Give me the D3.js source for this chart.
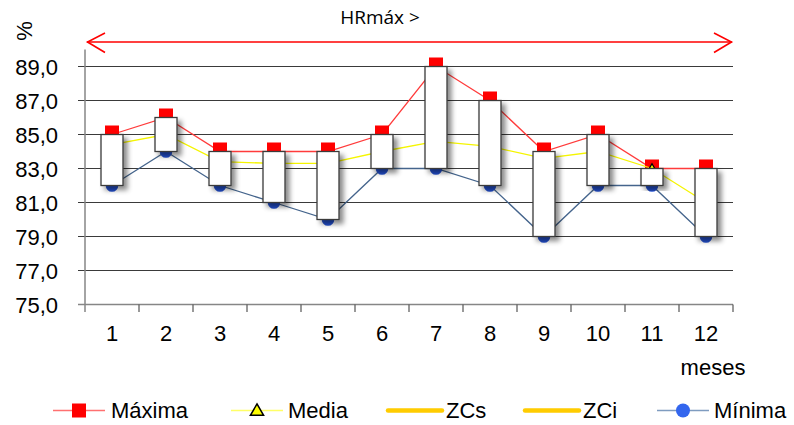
<!DOCTYPE html>
<html><head><meta charset="utf-8">
<script src="https://cdn.jsdelivr.net/npm/d3@7"></script>
<style>body{margin:0;background:#fff}svg{display:block}text{font-family:"Liberation Sans",Arial,sans-serif;fill:#000}</style>
</head><body>
<svg id="c" width="794" height="425"></svg>
<script>
const months = [1,2,3,4,5,6,7,8,9,10,11,12];
const maxima = [85,86,84,84,84,85,89,87,84,85,83,83];
const minima = [82,84,82,81,80,83,83,82,79,82,82,79];
const media  = [84.4,85.0,83.4,83.3,83.3,84.0,84.6,84.3,83.6,84.0,83.0,81.0];
const yTicks = [75,77,79,81,83,85,87,89];
const legendItems = ["Máxima","Media","ZCs","ZCi","Mínima"];

const svg = d3.select("#c");
const x = d3.scaleBand().domain(months).range([85,733]);
const y = d3.scaleLinear().domain([75,90]).range([304.5,49.5]);
const fmt = v => d3.format(".1f")(v).replace(".", ",");

const defs = svg.append("defs");
const f = defs.append("filter").attr("id","sh").attr("x","-50%").attr("y","-20%").attr("width","200%").attr("height","150%");
f.append("feDropShadow").attr("dx",4).attr("dy",4).attr("stdDeviation",2.5).attr("flood-color","#000").attr("flood-opacity",0.45);

// gridlines
svg.append("g").selectAll("line").data(yTicks).join("line")
  .attr("x1",78).attr("x2",733).attr("y1",d=>y(d)).attr("y2",d=>y(d))
  .attr("stroke",d=>d===75?"#868686":"#3a3a3a").attr("stroke-width",d=>d===75?1.5:1.1);
// y tick labels
svg.append("g").selectAll("text").data(yTicks).join("text")
  .attr("x",58).attr("y",d=>y(d)+8).attr("text-anchor","end").attr("font-size",22).text(fmt);
// y axis line
svg.append("line").attr("x1",85).attr("x2",85).attr("y1",y(90)).attr("y2",312).attr("stroke","#868686").attr("stroke-width",1.5);
// x ticks
const bounds = months.map(m=>x(m)).concat([x(12)+x.bandwidth()]);
svg.append("g").selectAll("line").data(bounds.slice(1)).join("line")
  .attr("x1",d=>d).attr("x2",d=>d).attr("y1",y(75)).attr("y2",312).attr("stroke","#555").attr("stroke-width",1.2);
svg.append("g").selectAll("text").data(months).join("text")
  .attr("x",d=>x(d)+x.bandwidth()/2).attr("y",341).attr("text-anchor","middle").attr("font-size",22).text(d=>d);

// titles
svg.append("text").attr("x",713).attr("y",375).attr("text-anchor","middle").attr("font-size",22).text("meses");
svg.append("text").attr("transform","translate(32,31) rotate(-90)").attr("text-anchor","middle").attr("font-size",22).text("%");
svg.append("text").attr("x",380).attr("y",24).attr("text-anchor","middle").attr("font-size",19).style("font-family","'Open Sans', sans-serif").text("HRmáx >");
// red double arrow
const ar = svg.append("g").attr("stroke","#ff0000").attr("stroke-width",1.6).attr("fill","none");
ar.append("line").attr("x1",87).attr("x2",732).attr("y1",42).attr("y2",42);
ar.append("path").attr("d","M105,33 L87.5,42 L105,52.5");
ar.append("path").attr("d","M714,33 L731.5,42 L714,52.5");

const cx = m => x(m)+x.bandwidth()/2;
const idx = months.map((m,i)=>i);
const line = arr => d3.line().x(i=>cx(months[i])).y(i=>y(arr[i]))(idx);

// Máxima
svg.append("path").attr("d",line(maxima)).attr("fill","none").attr("stroke","#ff3b3b").attr("stroke-width",1.3);
svg.append("g").selectAll("rect").data(idx).join("rect")
  .attr("x",i=>cx(months[i])-7).attr("y",i=>y(maxima[i])-9).attr("width",14).attr("height",14).attr("fill","#ff0000");
// Media
svg.append("path").attr("d",line(media)).attr("fill","none").attr("stroke","#f5f500").attr("stroke-width",1.3);
const tri = d3.symbol().type(d3.symbolTriangle).size(60);
svg.append("g").selectAll("path").data(idx).join("path")
  .attr("transform",i=>`translate(${cx(months[i])},${y(media[i])+2})`).attr("d",tri())
  .attr("fill","#ffff00").attr("stroke","#000").attr("stroke-width",1.3);
// Mínima
svg.append("path").attr("d",line(minima)).attr("fill","none").attr("stroke","#44648c").attr("stroke-width",1.3);
svg.append("g").selectAll("circle").data(idx).join("circle")
  .attr("cx",i=>cx(months[i])).attr("cy",i=>y(minima[i])).attr("r",6.3).attr("fill","#2350d0");
// boxes (ZCs / ZCi up-down bars)
svg.append("g").selectAll("rect").data(idx).join("rect")
  .attr("x",i=>cx(months[i])-11).attr("width",22)
  .attr("y",i=>y(maxima[i])).attr("height",i=>y(minima[i])-y(maxima[i]))
  .attr("fill","#fff").attr("stroke","#3a3a3a").attr("stroke-width",1.3).attr("filter","url(#sh)");

// legend
const ly = 410.5;
const lg = svg.append("g");
const L = [
  {x1:53,x2:105,tx:111,c:"#ff7070",w:1.5},
  {x1:231,x2:283,tx:288,c:"#ffff66",w:1.5},
  {x1:388,x2:442,tx:446,c:"#ffcc00",w:4.5},
  {x1:525,x2:579,tx:583,c:"#ffcc00",w:4.5},
  {x1:657,x2:709,tx:714,c:"#7f9cc0",w:1.5}
];
L.forEach((d,i)=>{
  lg.append("line").attr("x1",d.x1).attr("x2",d.x2).attr("y1",ly).attr("y2",ly).attr("stroke",d.c).attr("stroke-width",d.w).attr("stroke-linecap",d.w>3?"round":"butt");
  lg.append("text").attr("x",d.tx).attr("y",418).attr("font-size",22).text(legendItems[i]);
});
lg.append("rect").attr("x",72).attr("y",ly-7).attr("width",14).attr("height",14).attr("fill","#ff0000");
lg.append("path").attr("transform",`translate(257,${ly+1})`).attr("d",d3.symbol().type(d3.symbolTriangle).size(75)()).attr("fill","#ffff00").attr("stroke","#000").attr("stroke-width",1.5);
lg.append("circle").attr("cx",683).attr("cy",ly).attr("r",7).attr("fill","#3366ee");
</script>
</body></html>
